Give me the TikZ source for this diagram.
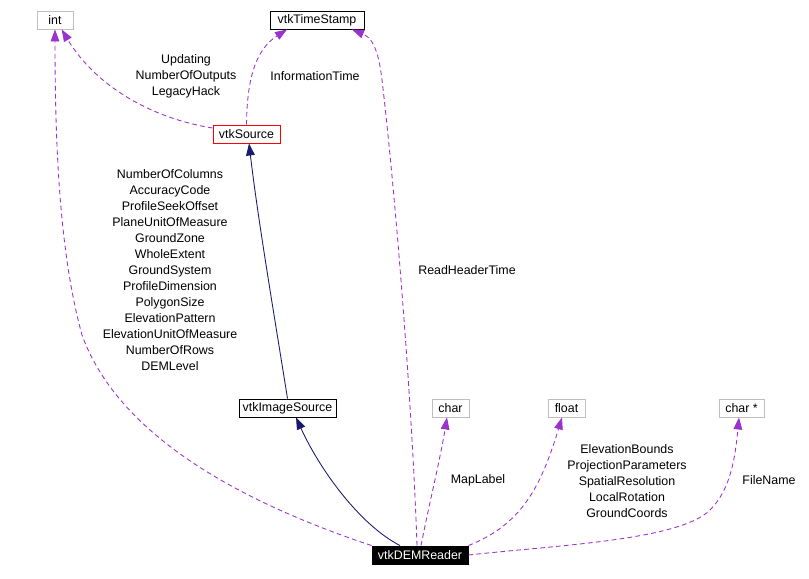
\documentclass[tikz,border=0pt]{standalone}
\usepackage{fontspec}
\setmainfont{Liberation Sans}
\usetikzlibrary{arrows.meta}
\definecolor{dpurple}{HTML}{9A32CD}
\definecolor{dnavy}{HTML}{191970}
\definecolor{dgrey}{HTML}{BFBFBF}
\begin{document}
\begin{tikzpicture}[x=0.75pt,y=-0.75pt,
  every node/.style={font=\fontsize{9.3pt}{12pt}\selectfont, inner sep=0pt},
  box/.style={draw=black, line width=0.7pt, minimum height=13.5pt, fill=white},
  greybox/.style={box, draw=dgrey},
  redbox/.style={box, draw=red},
  blackbox/.style={box, fill=black, text=white},
  lbl/.style={align=center},
  uses/.style={draw=dpurple, line width=0.65pt, dash pattern=on 3.5pt off 2.5pt, -{Triangle[length=9pt,width=6.5pt,fill=dpurple]}},
  inherit/.style={draw=dnavy, line width=0.65pt, -{Triangle[length=9pt,width=6.5pt,fill=dnavy]}}
]
\useasboundingbox (0,0) rectangle (809,578);
\fill[white] (0,0) rectangle (809,578);

\node[greybox, minimum width=27pt] (int) at (55,20) {int};
\node[box, minimum width=70.5pt] (ts) at (317,20) {vtkTimeStamp};
\node[redbox, minimum width=50.25pt] (src) at (246.5,134) {vtkSource};
\node[box, minimum width=72.75pt] (img) at (287.5,408) {vtkImageSource};
\node[greybox, minimum width=27.75pt] (chr) at (450.5,408) {char};
\node[greybox, minimum width=27.75pt] (flt) at (566.5,408) {float};
\node[greybox, minimum width=33.75pt] (chp) at (741.5,408) {char *};
\node[blackbox, minimum width=72pt] (dem) at (420,555) {vtkDEMReader};

% labels
\node[lbl] (l1) at (186,76) {Updating\\NumberOfOutputs\\LegacyHack};
\node[lbl] (l2) at (315,76) {InformationTime};
\node[lbl] (l3) at (170,270) {NumberOfColumns\\AccuracyCode\\ProfileSeekOffset\\PlaneUnitOfMeasure\\GroundZone\\WholeExtent\\GroundSystem\\ProfileDimension\\PolygonSize\\ElevationPattern\\ElevationUnitOfMeasure\\NumberOfRows\\DEMLevel};
\node[lbl] (l4) at (467,270) {ReadHeaderTime};
\node[lbl] (l5) at (478,480) {MapLabel};
\node[lbl] (l6) at (627,481) {ElevationBounds\\ProjectionParameters\\SpatialResolution\\LocalRotation\\GroundCoords};
\node[lbl] (l7) at (769,480) {FileName};

% connectors
\draw[uses] ([yshift=4.5pt]src.west) .. controls (150,118) and (95,85) .. ([xshift=5pt]int.south);
\draw[uses] (src.north) .. controls (247,80) and (255,50) .. ([xshift=-22.5pt]ts.south);
\draw[inherit] (img.north) .. controls (275,320) and (258,220) .. ([xshift=1.9pt]src.south);
\draw[inherit] ([xshift=-15pt]dem.north) .. controls (360,525) and (320,470) .. ([xshift=6.4pt]img.south);
\draw[uses] (dem.north west) .. controls (250,505) and (120,440) .. (82,335) .. controls (60,255) and (55,150) .. (int.south);
\draw[uses] ([xshift=-2.25pt]dem.north) .. controls (412,400) and (395,190) .. (382,80) .. controls (378,45) and (370,37) .. ([xshift=26.25pt]ts.south);
\draw[uses] ([xshift=0.75pt]dem.north) .. controls (430,500) and (440,460) .. ([xshift=-2.6pt]chr.south);
\draw[uses] (dem.north east) .. controls (520,525) and (540,490) .. ([xshift=-3.4pt]flt.south);
\draw[uses] (dem.east) .. controls (560,545) and (680,540) .. (710,510) .. controls (730,490) and (735,460) .. ([xshift=-1.9pt]chp.south);
\end{tikzpicture}
\end{document}
